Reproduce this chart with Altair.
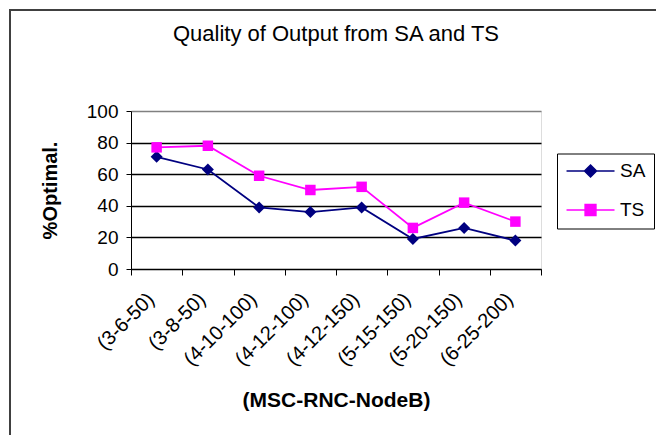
import altair as alt
import pandas as pd

categories = ["(3-6-50)", "(3-8-50)", "(4-10-100)", "(4-12-100)",
              "(4-12-150)", "(5-15-150)", "(5-20-150)", "(6-25-200)"]
sa_values = [71, 63, 39, 36, 39, 19, 26, 18]
ts_values = [77, 78, 59, 50, 52, 26, 42, 30]
series_names = ["SA", "TS"]
series_colors = ["#000080", "#FF00FF"]
y_ticks = [0, 20, 40, 60, 80, 100]

rows = []
for name, vals in zip(series_names, [sa_values, ts_values]):
    for c, v in zip(categories, vals):
        rows.append({"config": c, "series": name, "value": v})
df = pd.DataFrame(rows)

FONT = "Liberation Sans"

x_enc = alt.X(
    "config:N",
    sort=categories,
    scale=alt.Scale(type="band", paddingInner=0, paddingOuter=0),
    axis=alt.Axis(
        title="(MSC-RNC-NodeB)",
        titleFontSize=21, titleFontWeight="bold", titleFont=FONT, titleColor="black",
        titleY=131, titleBaseline="middle",
        labelAngle=-45, labelAlign="right", labelBaseline="middle",
        labelFontSize=20, labelFont=FONT, labelColor="black", labelPadding=21,
        labelOffset=-6,
        tickBand="extent", tickSize=6, tickColor="black", domainColor="black",
        grid=False, labelOverlap=False,
    ),
)
y_enc = alt.Y(
    "value:Q",
    scale=alt.Scale(domain=[0, 100], nice=False),
    axis=alt.Axis(
        title="%Optimal.",
        titleFontSize=20, titleFontWeight="bold", titleFont=FONT, titleColor="black",
        titleX=-81, titleBaseline="middle",
        values=y_ticks, labelFontSize=19, labelFont=FONT, labelColor="black",
        labelPadding=8, tickSize=5, tickColor="black", domainColor="black",
        grid=True,
        gridColor={"condition": {"test": "datum.value === 100", "value": "#808080"}, "value": "black"},
        gridWidth=1.5,
    ),
)
color_scale = alt.Scale(domain=series_names, range=series_colors)

lines = alt.Chart(df).mark_line(strokeWidth=1.8).encode(
    x=x_enc, y=y_enc,
    color=alt.Color("series:N", scale=color_scale, legend=None),
)

points = alt.Chart(df).mark_point(filled=True, opacity=1).encode(
    x=x_enc, y=y_enc,
    color=alt.Color("series:N", scale=color_scale, legend=None),
    shape=alt.Shape("series:N", scale=alt.Scale(domain=series_names, range=["diamond", "square"]), legend=None),
    size=alt.Size("series:N", scale=alt.Scale(domain=series_names, range=[144, 110]), legend=None),
)

# legend symbols: a line segment with the series marker
sa_path = "M-1.33,0H6.67M2.67,-1L3.67,0L2.67,1L1.67,0Z"
ts_path = "M-1.33,0H6.67M1.77,-0.9H3.57V0.9H1.77Z"
legend_props = dict(
    title=None, orient="none", legendX=426, legendY=42.5,
    strokeColor="black", fillColor="white", padding=8,
    labelFontSize=19, labelFont=FONT, labelColor="black",
    labelOffset=36, rowPadding=19, symbolSize=144, symbolStrokeWidth=1.5,
)
legend_layer = alt.Chart(df).transform_filter("false").mark_point(
    filled=False, opacity=1, strokeWidth=1.5
).encode(
    x=x_enc, y=y_enc,
    color=alt.Color("series:N", scale=color_scale, legend=alt.Legend(**legend_props)),
    fill=alt.Fill("series:N", scale=color_scale, legend=alt.Legend(**legend_props)),
    shape=alt.Shape("series:N", scale=alt.Scale(domain=series_names, range=[sa_path, ts_path]),
                    legend=alt.Legend(**legend_props)),
)

frame_df = pd.DataFrame({"k": [0]})
frame_top = alt.Chart(frame_df).mark_rule(color="#404040", strokeWidth=2).encode(
    x=alt.value(-121), x2=alt.value(525), y=alt.value(-101)
)
frame_left = alt.Chart(frame_df).mark_rule(color="#404040", strokeWidth=2).encode(
    x=alt.value(-121), y=alt.value(-102), y2=alt.value(324)
)

chart = alt.layer(frame_top, frame_left, lines, points, legend_layer).resolve_scale(
    color="independent", shape="independent", size="independent", fill="independent"
).properties(
    width=410, height=158,
    title=alt.Title("Quality of Output from SA and TS", fontSize=22, fontWeight="normal",
                    font=FONT, color="black", anchor="middle", baseline="alphabetic",
                    offset=0, dy=55),
    autosize=alt.AutoSizeParams(type="none"),
    padding={"left": 123, "top": 103, "right": 115, "bottom": 166},
).configure_view(
    fill="#C0C0C0", stroke="#808080", strokeWidth=1
).configure(
    background="white"
)

chart.save("out.html", embed_options={"renderer": "svg", "actions": False})
